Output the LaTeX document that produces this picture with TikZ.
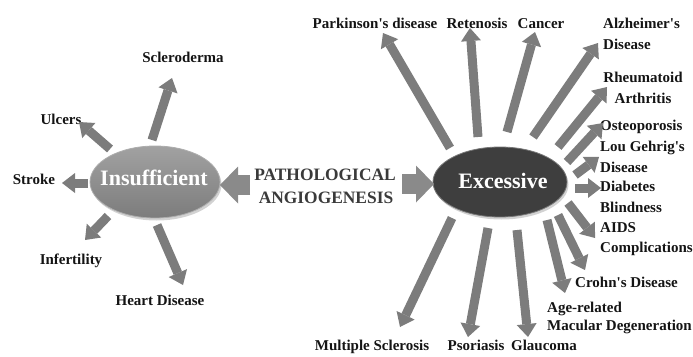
\documentclass[tikz,border=0pt]{standalone}
\usepackage{fontspec}
\setmainfont{Liberation Serif}
\newfontfamily\labfont{Liberation Serif}
\usetikzlibrary{arrows.meta,shadows,shapes.geometric}
\definecolor{arrgray}{HTML}{7C7C7C}
\definecolor{biggray}{HTML}{8A8A8A}
\definecolor{insuf}{HTML}{8A8A8A}
\definecolor{exces}{HTML}{3E3E3E}
\definecolor{pathtxt}{HTML}{3A3A3A}
\begin{document}
\begin{tikzpicture}[x=1pt,y=-1pt,
  arr/.style={draw=arrgray, line width=9pt, -{Triangle[length=13pt,width=20pt,line width=0pt]}},
  bigarr/.style={draw=biggray, line width=20pt, -{Triangle[length=18pt,width=37pt,line width=0pt]}},
  lbl/.style={font=\labfont\fontsize{15}{20.5}\selectfont\bfseries, text=black!92, inner sep=0pt},
  lblL/.style={lbl, align=left, anchor=north west},
  lblC/.style={lbl, align=center, anchor=north},
  hub/.style={ellipse, inner sep=0pt, drop shadow={shadow xshift=1.5pt, shadow yshift=-2.5pt, fill=black!35}},
  hubtxt/.style={font=\fontsize{22}{24}\selectfont\bfseries, text=white, inner sep=0pt, anchor=base},
  pathlbl/.style={font=\fontsize{17.4}{22}\selectfont\bfseries, text=pathtxt, inner sep=0pt, anchor=base}
]
\useasboundingbox (0,0) rectangle (693,356);

% hubs
\node[hub, minimum width=130pt, minimum height=72pt, top color=insuf!80!white, bottom color=insuf!90!black, draw=insuf!70!white, line width=0.8pt] (ins) at (155,182) {};
\node[hubtxt] (inst) at (154,185) {Insufficient};
\node[hub, minimum width=134pt, minimum height=70pt, fill=exces, draw=exces!70!white, line width=0.8pt] (exc) at (500,182) {};
\node[hubtxt] (exct) at (503,188) {Excessive};

% centre text
\node[pathlbl] (path1) at (325,180) {PATHOLOGICAL};
\node[pathlbl] (path2) at (326,203) {ANGIOGENESIS};

\coordinate (bl0) at (250,185); \coordinate (bl1) at (220,185);
\coordinate (br0) at (402,184); \coordinate (br1) at (434,184);
\draw[bigarr] (bl0) -- (bl1);
\draw[bigarr] (br0) -- (br1);

% left labels
\node[lbl, anchor=base] (scl) at (183,62) {Scleroderma};
\node[lbl, anchor=base] (ulc) at (61,124) {Ulcers};
\node[lbl, anchor=base] (str) at (34,184) {Stroke};
\node[lbl, anchor=base] (inf) at (71,264) {Infertility};
\node[lbl, anchor=base] (hd) at (160,305) {Heart Disease};

% left arrows
\coordinate (scl0) at (152,140); \coordinate (scl1) at (172,78);
\coordinate (ulc0) at (110,149); \coordinate (ulc1) at (79,122);
\coordinate (str0) at (88,183);  \coordinate (str1) at (62,183);
\coordinate (inf0) at (108,216); \coordinate (inf1) at (85,240);
\coordinate (hd0) at (157,225);  \coordinate (hd1) at (183,285);
\draw[arr] (scl0) -- (scl1);
\draw[arr] (ulc0) -- (ulc1);
\draw[arr] (str0) -- (str1);
\draw[arr] (inf0) -- (inf1);
\draw[arr] (hd0) -- (hd1);

% right labels
\node[lbl, anchor=base] (pk) at (375,28) {Parkinson's disease};
\node[lbl, anchor=base] (ret) at (477,28) {Retenosis};
\node[lbl, anchor=base] (can) at (541,28) {Cancer};
\node[lblL] (alz) at (603,18) {Alzheimer's\\Disease};
\node[lblC] (rh) at (643,72) {Rheumatoid\\Arthritis};
\node[lbl, anchor=base west] (ost) at (600,130) {Osteoporosis};
\node[lblL] (lou) at (600,141) {Lou Gehrig's\\Disease};
\node[lblL] (dia) at (600,181) {Diabetes\\Blindness};
\node[lblL] (aids) at (600,222) {AIDS\\Complications};
\node[lbl, anchor=base west] (cro) at (575,287) {Crohn's Disease};
\node[lblL, font=\labfont\fontsize{15}{18}\selectfont\bfseries] (age) at (547,302) {Age-related\\Macular Degeneration};
\node[lbl, anchor=base] (gla) at (544,350) {Glaucoma};
\node[lbl, anchor=base] (pso) at (476,350) {Psoriasis};
\node[lbl, anchor=base] (ms) at (372,350) {Multiple Sclerosis};

% right arrows
\coordinate (pk0) at (450,148);  \coordinate (pk1) at (383,33);
\coordinate (ret0) at (478,137); \coordinate (ret1) at (470,28);
\coordinate (can0) at (507,132); \coordinate (can1) at (535,32);
\coordinate (alz0) at (533,137); \coordinate (alz1) at (598,43);
\coordinate (rh0) at (558,147);  \coordinate (rh1) at (607,87);
\coordinate (ost0) at (567,162); \coordinate (ost1) at (603,123);
\coordinate (lou0) at (575,175); \coordinate (lou1) at (599,157);
\coordinate (dia0) at (575,188); \coordinate (dia1) at (601,188);
\coordinate (aids0) at (568,203); \coordinate (aids1) at (595,238);
\coordinate (cro0) at (558,215); \coordinate (cro1) at (585,270);
\coordinate (age0) at (547,220); \coordinate (age1) at (565,293);
\coordinate (gla0) at (517,230); \coordinate (gla1) at (528,337);
\coordinate (pso0) at (488,228); \coordinate (pso1) at (468,337);
\coordinate (ms0) at (452,218);  \coordinate (ms1) at (400,327);
\foreach \a in {pk,ret,can,alz,rh,ost,lou,dia,aids,cro,age,gla,pso,ms}
  \draw[arr] (\a0) -- (\a1);
\end{tikzpicture}
\end{document}
